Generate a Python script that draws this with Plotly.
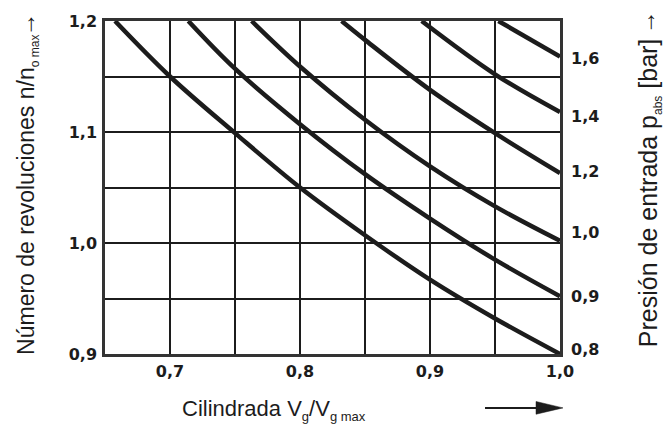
import plotly.graph_objects as go

# Speed ratio n/n0 max versus displacement ratio Vg/Vg max, one curve per inlet pressure
curve_p08_x = [0.6577, 0.70, 0.75, 0.80, 0.85, 0.90, 0.95, 1.00]
curve_p08_n = [1.200, 1.150, 1.099, 1.050, 1.007, 0.967, 0.932, 0.900]
curve_p09_x = [0.7141, 0.75, 0.80, 0.85, 0.90, 0.95, 1.00]
curve_p09_n = [1.200, 1.157, 1.107, 1.062, 1.022, 0.985, 0.952]
curve_p10_x = [0.7628, 0.80, 0.85, 0.90, 0.95, 1.00]
curve_p10_n = [1.200, 1.159, 1.111, 1.069, 1.033, 1.002]
curve_p12_x = [0.832, 0.85, 0.90, 0.95, 1.00]
curve_p12_n = [1.200, 1.183, 1.138, 1.099, 1.063]
curve_p14_x = [0.8936, 0.95, 1.00]
curve_p14_n = [1.200, 1.152, 1.118]
curve_p16_x = [0.9526, 1.00]
curve_p16_n = [1.200, 1.168]

curves = [
    (curve_p08_x, curve_p08_n),
    (curve_p09_x, curve_p09_n),
    (curve_p10_x, curve_p10_n),
    (curve_p12_x, curve_p12_n),
    (curve_p14_x, curve_p14_n),
    (curve_p16_x, curve_p16_n),
]

# Axis ticks (grid every 0.05, labels every 0.1)
x_ticks = [0.65, 0.70, 0.75, 0.80, 0.85, 0.90, 0.95, 1.00]
x_ticktext = ["", "0,7", "", "0,8", "", "0,9", "", "1,0"]
y_ticks = [0.90, 0.95, 1.00, 1.05, 1.10, 1.15, 1.20]
y_ticktext = ["0,9", "", "1,0", "", "1,1", "", "1,2"]

# Inlet pressure labels on the right, placed beside the curve ends
p_label_n = [0.9045, 0.952, 1.0095, 1.0645, 1.1145, 1.1665]
p_label_text = ["0,8", "0,9", "1,0", "1,2", "1,4", "1,6"]

INK = "#1c1c1c"
TICK_FONT = dict(family="DejaVu Sans", size=16, color=INK, weight="bold")
TITLE_FONT = "Liberation Sans, Arial, Helvetica, sans-serif"

fig = go.Figure()
for cx, cn in curves:
    fig.add_trace(go.Scatter(
        x=cx, y=cn, mode="lines",
        line=dict(color=INK, width=4.5, shape="spline"),
        hoverinfo="skip", showlegend=False,
    ))

# invisible trace so the right-hand axis is laid out
fig.add_trace(go.Scatter(x=[1.0], y=[1.0], yaxis="y2", mode="markers",
                         marker=dict(opacity=0), showlegend=False, hoverinfo="skip"))

grid = dict(showgrid=True, gridcolor=INK, gridwidth=2, zeroline=False,
            showline=True, linecolor="#333333", linewidth=2.5, mirror=True)

fig.update_layout(
    width=672, height=430,
    margin=dict(l=105, r=112, t=14, b=76),
    paper_bgcolor="white", plot_bgcolor="white",
    xaxis=dict(range=[0.65, 1.0], tickvals=x_ticks, ticktext=x_ticktext,
               tickfont=TICK_FONT, ticks="", ticklabelstandoff=1, **grid),
    yaxis=dict(range=[0.9, 1.2], tickvals=y_ticks, ticktext=y_ticktext,
               tickfont=TICK_FONT, ticks="", ticklabelstandoff=2, **grid),
    yaxis2=dict(range=[0.9, 1.2], overlaying="y", side="right",
                tickvals=p_label_n, ticktext=p_label_text, tickfont=TICK_FONT,
                ticks="", ticklabelstandoff=10, showgrid=False, zeroline=False,
                showline=False),
)

# Axis titles
fig.add_annotation(
    xref="paper", yref="paper", x=-0.169, y=0.478,
    text="Número de revoluciones n/n<sub><span style='font-size:12px'>o max</span></sub>",
    textangle=-90, showarrow=False, xanchor="center", yanchor="middle",
    font=dict(family=TITLE_FONT, size=23, color=INK),
)
fig.add_annotation(
    xref="paper", yref="paper", x=-0.1735, y=0.99,
    text="→", textangle=-90, showarrow=False, xanchor="center", yanchor="middle",
    font=dict(family=TITLE_FONT, size=24, color=INK),
)
fig.add_annotation(
    xref="paper", yref="paper", x=1.197, y=0.482,
    text="Presión de entrada p<sub><span style='font-size:12px'>abs</span></sub> [bar]",
    textangle=-90, showarrow=False, xanchor="center", yanchor="middle",
    font=dict(family=TITLE_FONT, size=25, color=INK),
)
fig.add_annotation(
    xref="paper", yref="paper", x=1.192, y=0.997,
    text="→", textangle=-90, showarrow=False, xanchor="center", yanchor="middle",
    font=dict(family=TITLE_FONT, size=24, color=INK),
)
fig.add_annotation(
    xref="paper", yref="paper", x=0.3714, y=-0.168,
    text="Cilindrada V<sub><span style='font-size:13px'>g</span></sub>/V<sub><span style='font-size:13px'>g max</span></sub>",
    showarrow=False, xanchor="center", yanchor="middle",
    font=dict(family=TITLE_FONT, size=22, color=INK),
)

# Direction arrow under the x-axis title
fig.add_shape(type="line", xref="paper", yref="paper",
              x0=0.8352, x1=0.956, y0=-0.1618, y1=-0.1618,
              line=dict(color=INK, width=2))
fig.add_shape(type="path", xref="paper", yref="paper",
              path="M 0.9473,-0.1426 L 1.0066,-0.1618 L 0.9473,-0.1809 Z",
              fillcolor=INK, line=dict(color=INK, width=0.5))

fig.write_html("out.html")
